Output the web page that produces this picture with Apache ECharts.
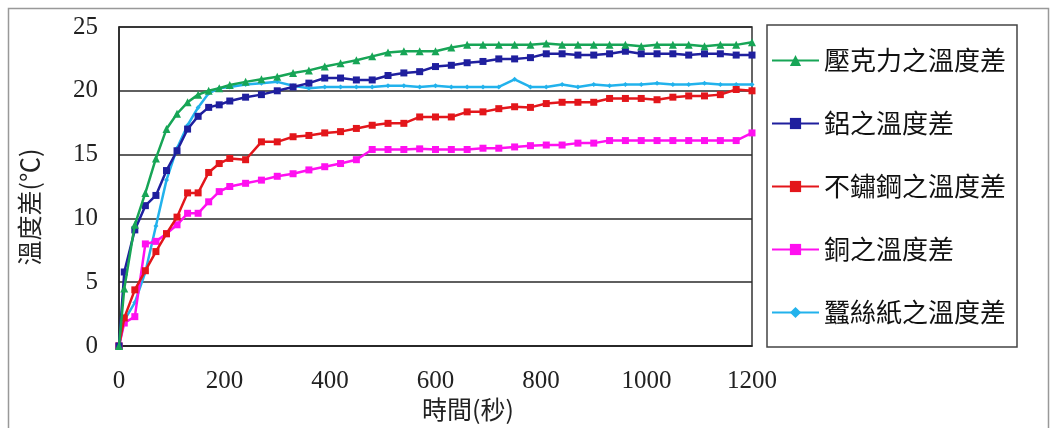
<!DOCTYPE html>
<html><head><meta charset="utf-8">
<script src="https://cdn.jsdelivr.net/npm/echarts@6/dist/echarts.min.js"></script>
<style>html,body{margin:0;padding:0;background:#fff}#c{width:1056px;height:428px}</style>
</head><body><div id="c"></div>
<script>
// time (s)
const times = [0,10,30,50,70,90,110,130,150,170,190,210,240,270,300,330,360,390,420,450,480,510,540,570,600,630,660,690,720,750,780,810,840,870,900,930,960,990,1020,1050,1080,1110,1140,1170,1200];
// 壓克力
const acrylic = [0,4.5,9.5,12.0,14.7,17.0,18.2,19.1,19.7,20.0,20.2,20.45,20.7,20.9,21.1,21.4,21.6,21.9,22.15,22.4,22.7,23.0,23.1,23.1,23.1,23.4,23.6,23.6,23.6,23.6,23.6,23.7,23.6,23.6,23.6,23.6,23.6,23.5,23.6,23.6,23.6,23.5,23.6,23.6,23.8];
// 鋁
const aluminum = [0,5.8,9.1,11.0,11.8,13.75,15.3,17.0,18.0,18.7,18.9,19.2,19.5,19.7,20.0,20.3,20.6,21.0,21.0,20.85,20.85,21.2,21.4,21.5,21.9,22.0,22.2,22.3,22.5,22.5,22.6,22.9,22.9,22.8,22.8,22.9,23.1,22.9,22.9,22.9,22.8,22.9,22.9,22.8,22.8];
// 不鏽鋼
const stainless = [0,2.2,4.4,5.9,7.4,8.8,10.1,12.0,12.0,13.6,14.3,14.7,14.6,16.0,16.0,16.4,16.5,16.7,16.8,17.05,17.3,17.45,17.45,17.95,17.95,17.95,18.35,18.35,18.6,18.75,18.7,19.0,19.1,19.1,19.1,19.4,19.4,19.4,19.3,19.5,19.6,19.6,19.7,20.1,20.0];
// 銅
const copper = [0,1.8,2.3,8.0,8.2,8.8,9.5,10.4,10.4,11.3,12.1,12.5,12.75,13.0,13.3,13.5,13.8,14.05,14.3,14.6,15.4,15.4,15.4,15.45,15.4,15.4,15.4,15.5,15.5,15.6,15.7,15.75,15.75,15.9,15.9,16.1,16.1,16.1,16.1,16.1,16.1,16.1,16.1,16.1,16.7];
// 蠶絲紙
const silkPaper = [0,2.0,3.4,5.8,9.4,13.0,15.5,17.3,18.7,19.8,20.2,20.3,20.5,20.6,20.7,20.4,20.2,20.3,20.3,20.3,20.3,20.4,20.4,20.3,20.4,20.3,20.3,20.3,20.3,20.9,20.3,20.3,20.5,20.3,20.5,20.4,20.5,20.5,20.6,20.5,20.5,20.6,20.5,20.5,20.5];

const seriesNames = ['壓克力之溫度差','鋁之溫度差','不鏽鋼之溫度差','銅之溫度差','蠶絲紙之溫度差'];
const xTicks = [0,200,400,600,800,1000,1200];
const yTicks = [0,5,10,15,20,25];
const xTitle = '時間(秒)';
const yTitle = '溫度差(℃)';

const colors = ['#17a556','#1f1f9e','#e3161b','#ff10f0','#22b2ec'];
const symbols = ['triangle','rect','rect','rect','diamond'];
const symSizes = [8,7,7,7,5];
const values = [acrylic, aluminum, stainless, copper, silkPaper];

const chart = echarts.init(document.getElementById('c'));
const cjk = '"Noto Sans CJK TC","Noto Sans CJK SC",sans-serif';
const numFont = '"Liberation Serif","DejaVu Serif",serif';

chart.setOption({
  animation: false,
  backgroundColor: '#fff',
  grid: {left: 119, right: 304, top: 27, bottom: 82, show: true, borderColor: '#333', borderWidth: 1.5, backgroundColor: 'transparent'},
  xAxis: {
    type: 'value', min: xTicks[0], max: xTicks[xTicks.length-1], interval: 200,
    axisLine: {show: true, lineStyle: {color: '#222', width: 1.5}},
    axisTick: {show: false},
    splitLine: {show: false},
    axisLabel: {fontFamily: numFont, fontSize: 25, color: '#222', margin: 23, formatter: v => String(v)}
  },
  yAxis: {
    type: 'value', min: yTicks[0], max: yTicks[yTicks.length-1], interval: 5,
    axisLine: {show: true, lineStyle: {color: '#222', width: 1.5}},
    axisTick: {show: false},
    splitLine: {show: true, lineStyle: {color: '#2a2a2a', width: 1.5}},
    axisLabel: {fontFamily: numFont, fontSize: 25, color: '#222', margin: 21, formatter: v => String(v)}
  },
  legend: {
    orient: 'vertical', left: 771, top: 45, padding: 0,
    itemWidth: 47, itemHeight: 14, itemGap: 32,
    textStyle: {fontFamily: cjk, fontSize: 26, color: '#111', lineHeight: 31},
    data: seriesNames
  },
  graphic: [
    {type: 'rect', shape: {x: 8.5, y: 8.5, width: 1040, height: 440}, style: {fill: 'none', stroke: '#999', lineWidth: 1.5}, silent: true, z: -1},
    {type: 'rect', shape: {x: 767, y: 25, width: 250, height: 322}, style: {fill: 'none', stroke: '#444', lineWidth: 1.5}, silent: true},
    {type: 'text', x: 468, y: 409, style: {text: xTitle, fontFamily: cjk, fontSize: 25, fill: '#222', align: 'center', verticalAlign: 'middle'}},
    {type: 'text', x: 29, y: 207, rotation: Math.PI/2, style: {text: yTitle, fontFamily: cjk, fontSize: 25, fill: '#222', align: 'center', verticalAlign: 'middle'}}
  ],
  series: seriesNames.map((name, k) => ({
    name, type: 'line',
    data: times.map((t, i) => [t, values[k][i]]),
    symbol: symbols[k], symbolSize: symSizes[k], showSymbol: true,
    lineStyle: {color: colors[k], width: 2.5},
    itemStyle: {color: colors[k]},
    z: 10 - k
  }))
});
</script></body></html>
